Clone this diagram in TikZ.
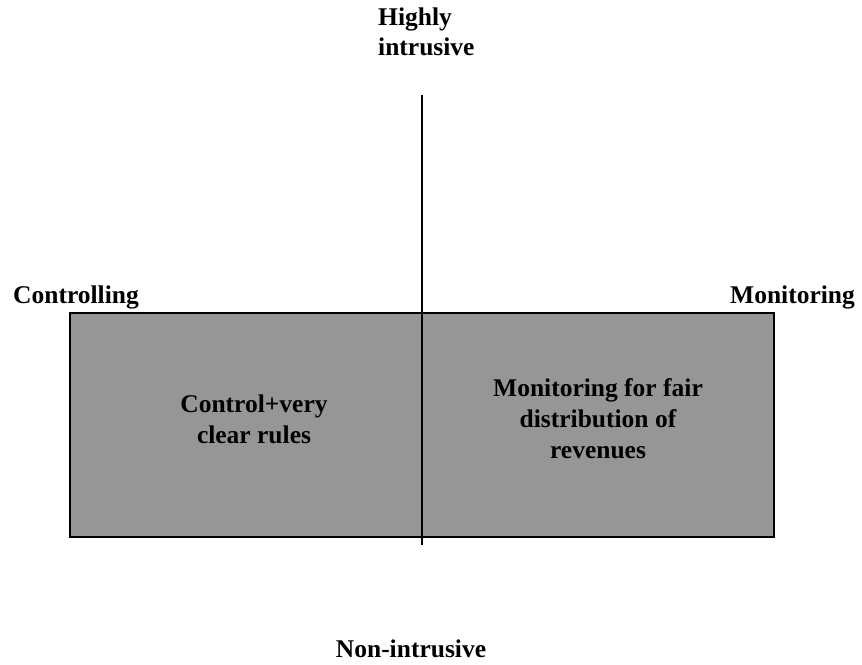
\documentclass[tikz,border=0pt]{standalone}
\usepackage{fontspec}
\setmainfont{Liberation Serif}
\usetikzlibrary{positioning}
\definecolor{boxgray}{RGB}{150,150,150}

\begin{document}
\begin{tikzpicture}[x=1pt, y=-1pt,
    axislabel/.style={font=\fontsize{25.5}{30}\selectfont\bfseries, inner sep=0pt},
    cellnote/.style={font=\fontsize{25.5}{31}\selectfont\bfseries, inner sep=0pt, align=center}]
    \useasboundingbox (0,0) rectangle (862,664);

    % 灰色方框
    \draw[fill=boxgray, line width=1.5pt] (70,313) rectangle (774,537);

    % 纵轴
    \coordinate (top) at (422,95);
    \coordinate (bottom) at (422,545);
    \draw[line width=1.2pt] (top) -- (bottom);

    % 轴标签
    \node[axislabel, align=left, anchor=north west] (high) at (378,8) {Highly\\intrusive};
    \node[axislabel, anchor=base west] (ctrl) at (13,303) {Controlling};
    \node[axislabel, anchor=base west] (mon) at (730,303) {Monitoring};
    \node[axislabel, anchor=base] (non) at (411,657) {Non-intrusive};

    % 框内文字
    \node[cellnote, anchor=north] (left) at (254,395) {Control+very\\clear rules};
    \node[cellnote, anchor=north] (right) at (598,378) {Monitoring for fair\\distribution of\\revenues};
\end{tikzpicture}
\end{document}
